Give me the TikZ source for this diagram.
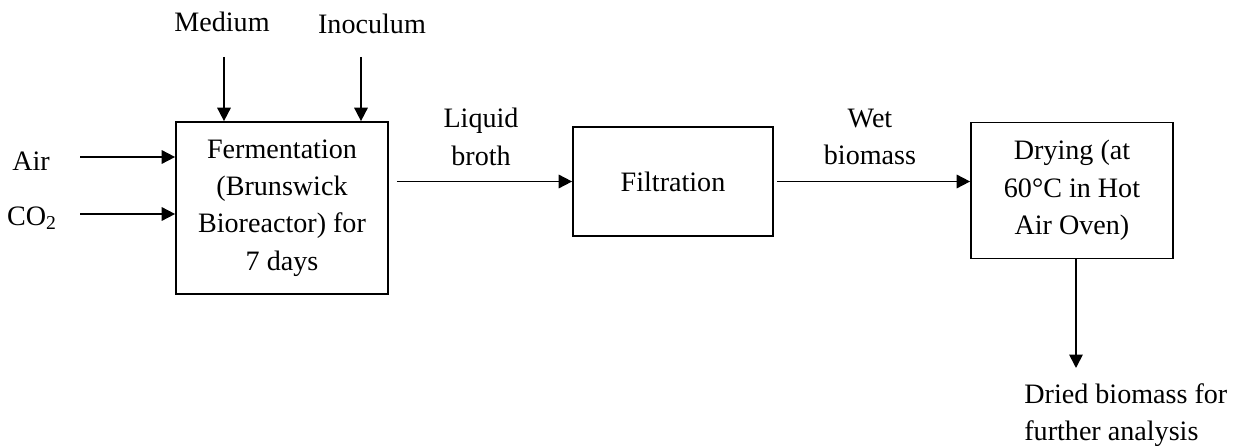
\documentclass[tikz,border=0pt]{standalone}
\usepackage{fontspec}
\setmainfont{Liberation Serif}
\usetikzlibrary{arrows.meta, positioning}

\begin{document}
\begin{tikzpicture}[
    x=0.02cm, y=-0.02cm,
    every node/.style={font=\fontsize{16}{21.3}\selectfont},
    process/.style={rectangle, draw, line width=1pt, inner sep=0pt, align=center},
    label/.style={align=center, inner sep=0pt},
    arrow/.style={-{Triangle[length=2.7mm, width=2.7mm]}, line width=1pt}
]

% Frame
\useasboundingbox (0,0) rectangle (1238,446);

% ============ Process boxes ============
\node[process, minimum width=4.24cm, minimum height=3.44cm] (ferment) at (282, 208) {Fermentation\\(Brunswick\\Bioreactor) for\\7 days};
\node[process, minimum width=4cm, minimum height=2.18cm] (filter) at (673, 181.5) {Filtration};
\node[process, minimum width=4.04cm, minimum height=2.72cm] (dry) at (1072, 190.5) {Drying (at\\60°C in Hot\\Air Oven)};

% ============ Inputs ============
\node[label] (medium) at (222, 22) {Medium};
\node[label] (inoculum) at (372, 24) {Inoculum};
\node[label] (air) at (31, 161) {Air};
\node[label] (co2) at (32, 218) {CO\textsubscript{2}};

\coordinate (medtop) at (224, 57);
\coordinate (inotop) at (361, 57);
\coordinate (airend) at (80, 157);
\coordinate (coend) at (80, 214);

\draw[arrow] (medtop) -- (medtop |- ferment.north);
\draw[arrow] (inotop) -- (inotop |- ferment.north);
\draw[arrow] (airend) -- (airend -| ferment.west);
\draw[arrow] (coend) -- (coend -| ferment.west);

% ============ Main line ============
\draw[arrow, shorten <=0.16cm] (ferment.east |- filter) -- (filter.west);
\draw[arrow, shorten <=0.06cm] (filter.east) -- (filter.east -| dry.west);

\node[label] (broth) at (481, 137) {Liquid\\broth};
\node[label] (wet) at (870, 137) {Wet\\biomass};

% ============ Output ============
\node[label, align=left, anchor=north west] (dried) at (1024, 383) {Dried biomass for\\further analysis};
\coordinate (drytop) at (1076, 258);
\draw[arrow] (drytop |- dry.south) -- (1076, 368);

\end{tikzpicture}
\end{document}
